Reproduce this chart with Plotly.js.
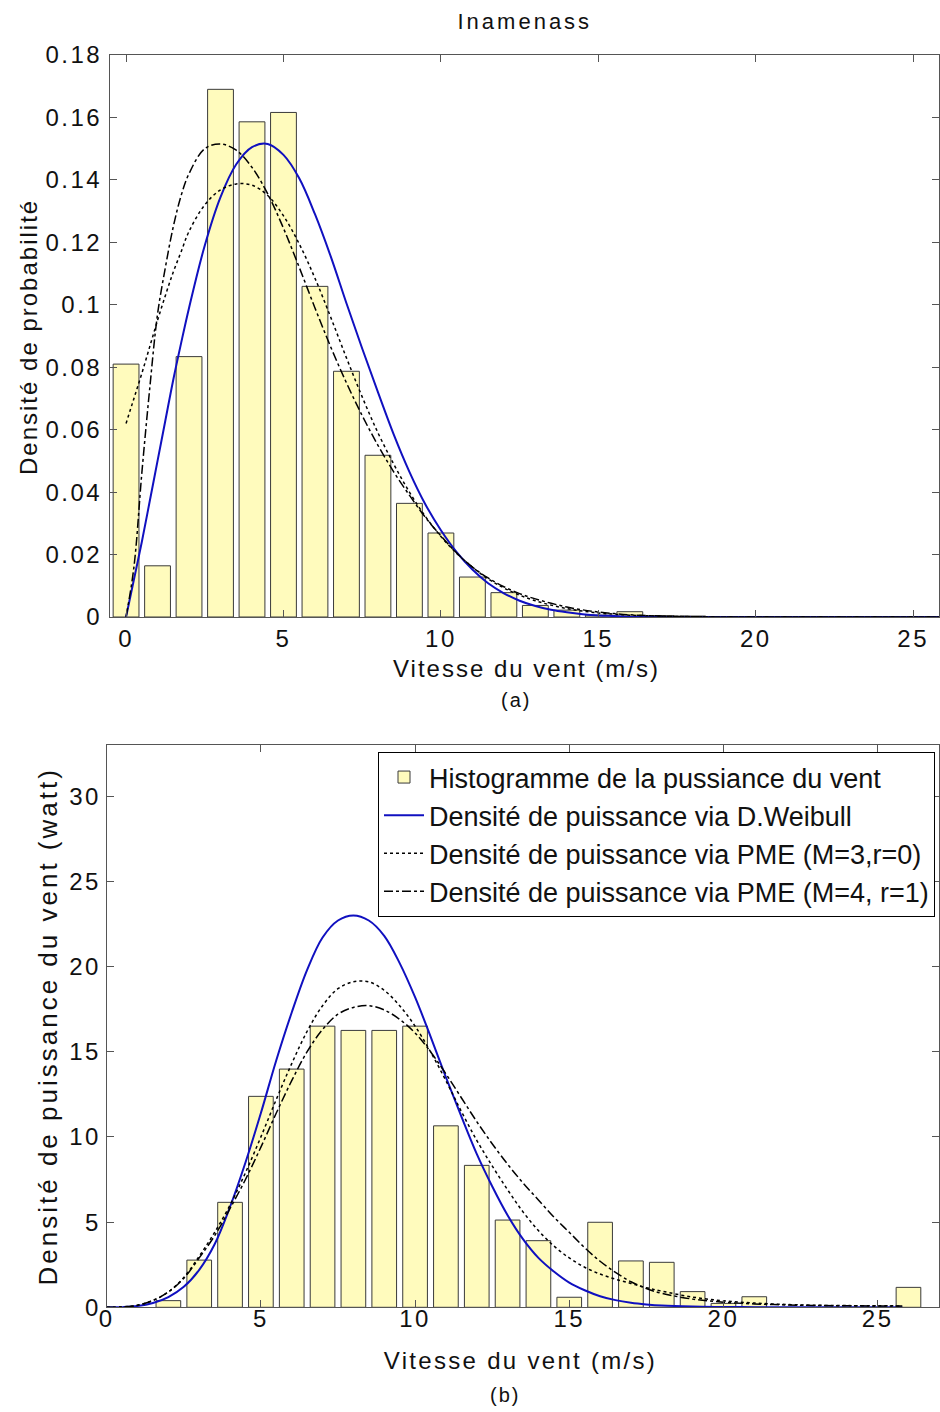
<!DOCTYPE html>
<html>
<head>
<meta charset="utf-8">
<script src="https://cdn.plot.ly/plotly-3.0.1.min.js"></script>
<style>
html,body{margin:0;padding:0;background:#fff;}
#chart{width:940px;height:1412px;}
#chart g.xtick text, #chart g.ytick text, #chart g.x2tick text, #chart g.y2tick text{letter-spacing:2.5px;}
#chart g.annotation[data-index="0"] text{letter-spacing:3px;}
#chart g.annotation[data-index="1"] text{letter-spacing:2px;}
#chart g.annotation[data-index="2"] text{letter-spacing:2px;}
#chart g.annotation[data-index="3"] text{letter-spacing:2px;}
#chart g.annotation[data-index="4"] text{letter-spacing:2.3px;}
#chart g.annotation[data-index="5"] text{letter-spacing:2px;}
#chart g.annotation[data-index="6"] text{letter-spacing:3px;}
</style>
</head>
<body>
<div id="chart"></div>
<script>
// ---------- Data: panel (a) probability density ----------
const histSpeedA = [0,1,2,3,4,5,6,7,8,9,10,11,12,13,14,15,16,17,18];
const histProbA  = [0.081,0.0164,0.0834,0.169,0.1586,0.1616,0.1059,0.0787,0.0518,0.0364,0.0269,0.0128,0.0078,0.0037,0.0022,0.0006,0.0017,0.0004,0.0003];

const curveSpeedA = [0,0.25,0.5,0.75,1,1.25,1.5,1.75,2,2.5,3,3.5,4,4.5,5,5.5,6,6.5,7,7.5,8,8.5,9,9.5,10,10.5,11,11.5,12,12.5,13,13.5,14,14.5,15,15.5,16,17,18,19,20,22,24,26];
const weibullA = [0,0.012,0.024,0.037,0.050,0.063,0.076,0.0878,0.099,0.119,0.1345,0.145,0.1505,0.1515,0.148,0.1405,0.129,0.1155,0.1005,0.086,0.072,0.0585,0.0465,0.0362,0.0278,0.0208,0.0152,0.0108,0.0076,0.0052,0.0035,0.0023,0.0015,0.0009,0.0005,0.0003,0.0001,0,0,0,0,0,0,0];
const pmeM3A = [0.062,0.070,0.078,0.0865,0.095,0.103,0.1105,0.117,0.1235,0.132,0.1368,0.1387,0.1383,0.135,0.1285,0.1195,0.1085,0.096,0.083,0.0705,0.059,0.049,0.040,0.0323,0.0258,0.0204,0.016,0.0122,0.0093,0.007,0.0052,0.0038,0.0027,0.0019,0.0013,0.0009,0.0006,0.0003,0.0001,0,0,0,0,0];
const pmeM4A = [0,0.016,0.046,0.073,0.097,0.112,0.125,0.135,0.142,0.150,0.1515,0.1495,0.144,0.1355,0.1245,0.112,0.099,0.0865,0.075,0.0645,0.055,0.0465,0.039,0.032,0.026,0.0205,0.016,0.0125,0.0097,0.0075,0.0058,0.0044,0.0032,0.0023,0.0016,0.0011,0.0007,0.0003,0.0001,0,0,0,0,0];

// ---------- Data: panel (b) power density ----------
const histSpeedB = [2,3,4,5,6,7,8,9,10,11,12,13,14,15,16,17,18,19,20,21,26];
const histPowerB = [0.39,2.77,6.16,12.38,13.98,16.50,16.25,16.25,16.50,10.65,8.33,5.12,3.91,0.59,4.99,2.72,2.64,0.92,0.23,0.62,1.17];

const curveSpeedB = [0,0.5,1,1.5,2,2.5,3,3.5,4,4.5,5,5.5,6,6.5,7,7.5,8,8.5,9,9.5,10,10.5,11,11.5,12,12.5,13,13.5,14,14.5,15,15.5,16,16.5,17,17.5,18,19,20,21,22,23,24,25,25.8];
const weibullB = [0,0.01,0.07,0.25,0.6,1.2,2.2,3.7,5.9,8.5,11.4,14.5,17.3,19.8,21.7,22.7,23.0,22.7,21.8,20.2,18.2,15.9,13.5,11.2,9.0,7.1,5.4,4.0,2.9,2.1,1.45,1.0,0.65,0.42,0.27,0.17,0.1,0.04,0.02,0.01,0,0,0,0,0];
const pmeM3B = [0,0.02,0.12,0.4,0.9,1.75,3.0,4.4,6.0,7.9,10.0,12.2,14.3,16.2,17.7,18.7,19.1,19.1,18.6,17.7,16.5,15.0,13.3,11.5,9.8,8.3,6.9,5.6,4.5,3.6,2.9,2.35,1.95,1.65,1.4,1.15,0.95,0.6,0.38,0.25,0.17,0.12,0.1,0.09,0.08];
const pmeM4B = [0,0.02,0.12,0.4,0.9,1.7,2.9,4.2,5.8,7.5,9.4,11.4,13.3,15.0,16.3,17.2,17.6,17.7,17.45,16.9,16.1,15.0,13.7,12.3,10.9,9.6,8.4,7.3,6.3,5.3,4.4,3.5,2.7,2.05,1.5,1.1,0.82,0.48,0.3,0.2,0.14,0.11,0.09,0.08,0.08];

// ---------- Tick labels ----------
const xTickVals = [0,5,10,15,20,25];
const xTickText = ['0','5','10','15','20','25'];
const yTickValsA = [0,0.02,0.04,0.06,0.08,0.1,0.12,0.14,0.16,0.18];
const yTickTextA = ['0','0.02','0.04','0.06','0.08','0.1','0.12','0.14','0.16','0.18'];
const yTickValsB = [0,5,10,15,20,25,30];
const yTickTextB = ['0','5','10','15','20','25','30'];

const legendNames = [
  'Histogramme de la pussiance du vent',
  'Densité de puissance via D.Weibull',
  'Densité de puissance via PME (M=3,r=0)',
  'Densité de puissance via PME (M=4, r=1)'
];

// ---------- Styles ----------
const FONT = 'Liberation Sans, Arial, sans-serif';
const barFill = '#fffbbd';
const barLine = '#3a3a3a';
const blue = '#1010c0';

const traces = [
  {type:'bar', x:histSpeedA, y:histProbA, width:0.82, xaxis:'x', yaxis:'y',
   marker:{color:barFill, line:{color:barLine, width:1}}, showlegend:false},
  {type:'scatter', mode:'lines', x:curveSpeedA, y:weibullA, xaxis:'x', yaxis:'y',
   line:{color:blue, width:2, shape:'spline'}, showlegend:false},
  {type:'scatter', mode:'lines', x:curveSpeedA, y:pmeM3A, xaxis:'x', yaxis:'y',
   line:{color:'#000', width:1.5, dash:'dot', shape:'spline'}, showlegend:false},
  {type:'scatter', mode:'lines', x:curveSpeedA, y:pmeM4A, xaxis:'x', yaxis:'y',
   line:{color:'#000', width:1.5, dash:'dashdot', shape:'spline'}, showlegend:false},

  {type:'bar', x:histSpeedB, y:histPowerB, width:0.8, xaxis:'x2', yaxis:'y2', name:legendNames[0], legendgroup:'g1',
   marker:{color:barFill, line:{color:barLine, width:1}}},
  {type:'scatter', mode:'lines', x:curveSpeedB, y:weibullB, xaxis:'x2', yaxis:'y2', name:legendNames[1], legendgroup:'g2',
   line:{color:blue, width:2, shape:'spline'}},
  {type:'scatter', mode:'lines', x:curveSpeedB, y:pmeM3B, xaxis:'x2', yaxis:'y2', name:legendNames[2], legendgroup:'g3',
   line:{color:'#000', width:1.5, dash:'dot', shape:'spline'}},
  {type:'scatter', mode:'lines', x:curveSpeedB, y:pmeM4B, xaxis:'x2', yaxis:'y2', name:legendNames[3], legendgroup:'g4',
   line:{color:'#000', width:1.5, dash:'dashdot', shape:'spline'}}
];

const W = 940, H = 1412;
const px = v => v / W;
const py = v => 1 - v / H;

const axisCommon = {
  showline:true, linecolor:'#555', linewidth:1, mirror:'ticks',
  ticks:'inside', ticklen:7, tickcolor:'#555', tickwidth:1,
  showgrid:false, zeroline:false, tickmode:'array',
  tickfont:{family:FONT, size:24, color:'#111'}
};

const annFont = (s) => ({family:FONT, size:s, color:'#111'});
const ann = (text, x, y, size, angle) => ({text:text, x:px(x), y:py(y), xref:'paper', yref:'paper',
  xanchor:'center', yanchor:'middle', showarrow:false, textangle:angle || 0, font:annFont(size)});

const layout = {
  width:W, height:H,
  margin:{l:0, r:0, t:0, b:0},
  paper_bgcolor:'#fff', plot_bgcolor:'#fff',
  bargap:0, barmode:'overlay',
  font:{family:FONT, color:'#111'},
  xaxis: Object.assign({}, axisCommon, {domain:[px(110), px(939)], range:[-0.51, 25.82],
    tickvals:xTickVals, ticktext:xTickText, anchor:'y', ticklabelstandoff:0}),
  yaxis: Object.assign({}, axisCommon, {domain:[py(617), py(55)], range:[0, 0.18],
    tickvals:yTickValsA, ticktext:yTickTextA, anchor:'x', ticklabelstandoff:2}),
  xaxis2: Object.assign({}, axisCommon, {domain:[px(106.7), px(939.3)], range:[0, 27],
    tickvals:xTickVals, ticktext:xTickText, anchor:'y2', ticklabelstandoff:-10}),
  yaxis2: Object.assign({}, axisCommon, {domain:[py(1307.3), py(745)], range:[0, 33],
    tickvals:yTickValsB, ticktext:yTickTextB, anchor:'x2', ticklabelstandoff:0}),
  legend:{x:px(935), xanchor:'right', y:py(752), yanchor:'top',
    bgcolor:'#fff', bordercolor:'#000', borderwidth:1,
    font:{family:FONT, size:27, color:'#111'}, tracegroupgap:0, itemwidth:40,
    traceorder:'normal'},
  annotations:[
    ann('Inamenass', 525, 22, 22),
    ann('Vitesse du vent (m/s)', 526, 668, 24),
    ann('(a)', 516, 700, 20),
    ann('Densité de probabilité', 28, 337, 24, -90),
    ann('Vitesse du vent (m/s)', 520, 1360, 24),
    ann('(b)', 505, 1395, 20),
    ann('Densité de puissance du vent (watt)', 48, 1027, 26, -90)
  ]
};

Plotly.newPlot('chart', traces, layout, {staticPlot:true, displayModeBar:false});
</script>
</body>
</html>
